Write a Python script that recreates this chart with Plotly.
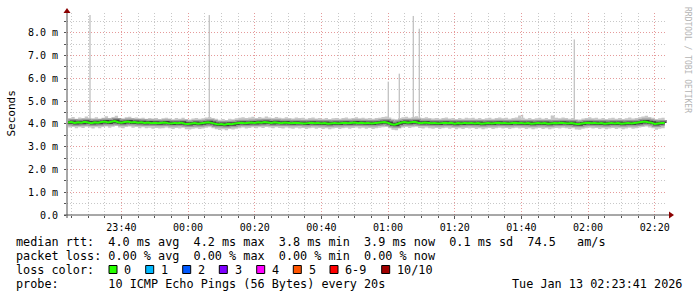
import pandas as pd
import plotly.graph_objects as go

# ---------------- data (values in milliseconds) ----------------
sample_start = "2026-01-12 23:24:00"
n_samples = 180  # one sample per minute

median_rtt = [
    4.06, 4.08, 4.04, 4.07, 4.05, 4.09, 4.06, 4.03, 4.07, 4.05,
    4.08, 4.10, 4.06, 4.09, 4.12, 4.07, 4.05, 4.08, 4.10, 4.06,
    4.08, 4.05, 4.07, 4.04, 4.06, 4.03, 4.05, 4.02, 4.04, 4.06,
    4.03, 4.01, 4.04, 4.02, 4.05, 4.00, 3.99, 4.01, 4.03, 4.00,
    4.02, 4.05, 4.07, 4.04, 3.99, 3.97, 3.99, 3.96, 4.00, 3.98,
    4.01, 4.03, 4.05, 4.02, 4.04, 4.06, 4.04, 4.07, 4.05, 4.08,
    4.06, 4.04, 4.07, 4.05, 4.03, 4.06, 4.04, 4.02, 4.05, 4.03,
    4.04, 4.01, 4.03, 4.05, 4.02, 4.04, 4.01, 4.03, 4.00, 4.02,
    4.04, 4.01, 4.03, 4.05, 4.02, 4.04, 4.06, 4.03, 4.05, 4.02,
    4.04, 4.01, 4.03, 4.05, 4.07, 4.08, 4.04, 3.98, 3.96, 4.02,
    4.06, 4.08, 4.05, 4.07, 4.09, 4.05, 4.03, 4.06, 4.04, 4.02,
    4.04, 4.01, 4.03, 4.05, 4.02, 4.04, 4.00, 4.03, 4.01, 4.04,
    4.02, 4.04, 4.01, 4.03, 4.00, 4.02, 4.04, 4.01, 4.03, 4.05,
    4.02, 4.04, 4.01, 4.03, 4.05, 4.02, 4.04, 4.01, 4.03, 4.00,
    4.02, 4.04, 4.01, 4.03, 4.00, 4.02, 4.04, 4.02, 4.05, 4.03,
    4.01, 4.03, 3.99, 3.98, 4.01, 4.03, 4.05, 4.02, 4.04, 4.01,
    4.03, 4.00, 4.02, 4.04, 4.01, 4.03, 4.00, 4.02, 4.04, 4.01,
    4.03, 4.05, 4.08, 4.10, 4.07, 4.05, 3.99, 4.02, 4.04, 4.03,
]

max_rtt = [
    4.26, 4.30, 4.22, 4.28, 4.25, 4.32, 4.27, 4.24, 4.29, 4.23,
    4.27, 4.33, 4.25, 4.30, 4.35, 4.26, 4.24, 4.29, 4.31, 4.25,
    4.28, 4.24, 4.27, 4.22, 4.26, 4.23, 4.25, 4.21, 4.24, 4.27,
    4.23, 4.20, 4.25, 4.22, 4.27, 4.21, 4.19, 4.23, 4.25, 4.22,
    4.24, 4.28, 4.30, 4.26, 4.22, 4.18, 4.21, 4.17, 4.22, 4.20,
    4.24, 4.27, 4.29, 4.25, 4.28, 4.31, 4.26, 4.30, 4.27, 4.32,
    4.28, 4.25, 4.30, 4.27, 4.24, 4.29, 4.26, 4.23, 4.28, 4.25,
    4.27, 4.22, 4.25, 4.28, 4.23, 4.26, 4.22, 4.25, 4.21, 4.24,
    4.26, 4.22, 4.25, 4.28, 4.23, 4.26, 4.29, 4.24, 4.27, 4.23,
    4.26, 4.22, 4.25, 4.27, 4.30, 4.32, 4.28, 4.22, 4.20, 4.25,
    4.29, 4.31, 4.27, 4.30, 4.33, 4.28, 4.25, 4.29, 4.26, 4.23,
    4.26, 4.22, 4.25, 4.28, 4.23, 4.26, 4.21, 4.25, 4.22, 4.27,
    4.24, 4.27, 4.22, 4.25, 4.21, 4.24, 4.27, 4.22, 4.25, 4.28,
    4.24, 4.27, 4.22, 4.25, 4.28, 4.36, 4.27, 4.22, 4.25, 4.21,
    4.24, 4.27, 4.22, 4.25, 4.21, 4.36, 4.27, 4.24, 4.28, 4.25,
    4.22, 4.25, 4.20, 4.19, 4.23, 4.26, 4.29, 4.24, 4.27, 4.22,
    4.25, 4.21, 4.24, 4.27, 4.22, 4.26, 4.21, 4.24, 4.28, 4.23,
    4.26, 4.29, 4.32, 4.35, 4.30, 4.27, 4.20, 4.24, 4.27, 4.25,
]

min_rtt = [
    3.84, 3.86, 3.80, 3.85, 3.82, 3.87, 3.84, 3.79, 3.85, 3.81,
    3.86, 3.88, 3.83, 3.87, 3.90, 3.84, 3.81, 3.86, 3.88, 3.83,
    3.86, 3.81, 3.85, 3.80, 3.83, 3.78, 3.82, 3.79, 3.81, 3.84,
    3.80, 3.77, 3.82, 3.79, 3.83, 3.76, 3.75, 3.78, 3.81, 3.77,
    3.79, 3.83, 3.85, 3.81, 3.76, 3.73, 3.76, 3.72, 3.77, 3.75,
    3.78, 3.81, 3.84, 3.79, 3.82, 3.85, 3.81, 3.85, 3.82, 3.86,
    3.84, 3.80, 3.85, 3.82, 3.79, 3.84, 3.81, 3.78, 3.83, 3.79,
    3.82, 3.77, 3.80, 3.83, 3.78, 3.82, 3.77, 3.80, 3.76, 3.79,
    3.82, 3.77, 3.80, 3.83, 3.78, 3.82, 3.84, 3.79, 3.83, 3.78,
    3.82, 3.77, 3.80, 3.83, 3.85, 3.86, 3.81, 3.74, 3.72, 3.79,
    3.84, 3.86, 3.82, 3.85, 3.87, 3.82, 3.79, 3.84, 3.81, 3.78,
    3.82, 3.77, 3.80, 3.83, 3.78, 3.82, 3.76, 3.80, 3.77, 3.82,
    3.79, 3.82, 3.77, 3.80, 3.76, 3.79, 3.82, 3.77, 3.80, 3.83,
    3.79, 3.82, 3.77, 3.80, 3.83, 3.79, 3.82, 3.77, 3.80, 3.76,
    3.79, 3.82, 3.77, 3.80, 3.76, 3.79, 3.82, 3.79, 3.83, 3.80,
    3.77, 3.80, 3.75, 3.74, 3.78, 3.81, 3.83, 3.79, 3.82, 3.77,
    3.80, 3.76, 3.79, 3.82, 3.77, 3.81, 3.76, 3.79, 3.83, 3.78,
    3.81, 3.84, 3.86, 3.88, 3.84, 3.81, 3.74, 3.78, 3.81, 3.80,
]

# isolated single-ping outliers (max of a sample)
spike_times = ["2026-01-12 23:30:35", "2026-01-13 00:06:23", "2026-01-13 01:00:05",
               "2026-01-13 01:03:23", "2026-01-13 01:07:35", "2026-01-13 01:09:23",
               "2026-01-13 01:40:20", "2026-01-13 01:49:00", "2026-01-13 01:55:53"]
spike_peaks = [8.77, 8.77, 5.85, 6.20, 8.73, 8.17, 4.40, 4.36, 7.70]
spike_base = 4.0

y_tick_values = [0, 1, 2, 3, 4, 5, 6, 7, 8]
y_tick_labels = ["0.0", "1.0 m", "2.0 m", "3.0 m", "4.0 m", "5.0 m", "6.0 m", "7.0 m", "8.0 m"]
y_minor_values = [0.5, 1.5, 2.5, 3.5, 4.5, 5.5, 6.5, 7.5, 8.5]

x_start = "2026-01-12 23:23:41"
x_end = "2026-01-13 02:23:41"
y_top = 8.86

legend_line1 = "median rtt:  4.0 ms avg  4.2 ms max  3.8 ms min  3.9 ms now  0.1 ms sd  74.5   am/s"
legend_line2 = "packet loss: 0.00 % avg  0.00 % max  0.00 % min  0.00 % now"
legend_line3 = "loss color:"
legend_line4 = "probe:       10 ICMP Echo Pings (56 Bytes) every 20s"
timestamp_text = "Tue Jan 13 02:23:41 2026"
loss_labels = ["0", "1", "2", "3", "4", "5", "6-9", "10/10"]
loss_colors = ["#26ff00", "#00b8ff", "#0059ff", "#7e00ff", "#ff00ff", "#ff5500", "#ff0000", "#a10000"]

# ---------------- layout geometry (pixels) ----------------
W, H = 697, 297
PL, PR, PT, PB = 67, 667, 13, 215  # plot area


def px(x):
    return (x - PL) / (PR - PL)


def py(y):
    return (PB - y) / (PB - PT)


times = pd.date_range(sample_start, periods=n_samples, freq="1min")
MONO = "DejaVu Sans Mono"

fig = go.Figure()

# spikes (drawn first, below the smoke)
sx, sy = [], []
for t, p in zip(spike_times, spike_peaks):
    sx += [t, t, None]
    sy += [spike_base, p, None]
fig.add_trace(go.Scatter(x=sx, y=sy, mode="lines", line=dict(color="#c4c4c4", width=1.4),
                         hoverinfo="skip", showlegend=False))

# smoke (min..max band)
fig.add_trace(go.Scatter(x=times, y=min_rtt, mode="lines", line=dict(width=0, shape="hv"),
                         hoverinfo="skip", showlegend=False))
fig.add_trace(go.Scatter(x=times, y=max_rtt, mode="lines", line=dict(width=0, shape="hv"),
                         fill="tonexty", fillcolor="#c8c8c8", hoverinfo="skip", showlegend=False))

# darker smoke core around the median
fig.add_trace(go.Scatter(x=times, y=median_rtt, mode="lines",
                         line=dict(color="#9a9a9a", width=6, shape="hv"),
                         hoverinfo="skip", showlegend=False))
fig.add_trace(go.Scatter(x=times, y=median_rtt, mode="lines",
                         line=dict(color="#404040", width=3, shape="hv"),
                         hoverinfo="skip", showlegend=False))
# median line (loss 0 -> green)
fig.add_trace(go.Scatter(x=times, y=median_rtt, mode="lines",
                         line=dict(color=loss_colors[0], width=2),
                         hoverinfo="skip", showlegend=False))

grid_dash = "1px,2px"
fig.update_xaxes(
    type="date", range=[x_start, x_end],
    tick0="2026-01-12 23:40:00", dtick=20 * 60 * 1000, tickformat="%H:%M",
    showgrid=True, gridcolor="#e59a9a", griddash=grid_dash, gridwidth=1,
    ticks="outside", ticklen=3, tickcolor="#555555",
    tickfont=dict(family=MONO, size=10, color="#000000"),
    minor=dict(dtick=5 * 60 * 1000, tick0="2026-01-12 23:40:00", showgrid=True,
               gridcolor="#c8c8c8", griddash=grid_dash, ticks="outside", ticklen=2,
               tickcolor="#555555"),
    showline=False, zeroline=False, fixedrange=True,
)
fig.update_yaxes(
    range=[0, y_top], tickvals=y_tick_values, ticktext=y_tick_labels,
    showgrid=True, gridcolor="#e59a9a", griddash=grid_dash, gridwidth=1,
    ticks="outside", ticklen=2, tickcolor="#555555",
    ticklabelstandoff=4,
    tickfont=dict(family=MONO, size=10, color="#000000"),
    minor=dict(tickvals=y_minor_values, showgrid=True, gridcolor="#c8c8c8",
               griddash=grid_dash, ticks="outside", ticklen=2, tickcolor="#555555"),
    showline=False, zeroline=False, fixedrange=True,
)

shapes = []
axis_col = "#505050"
arrow_col = "#8b0000"
# y axis line + arrow
shapes.append(dict(type="line", xref="paper", yref="paper", x0=0, x1=0, y0=py(218), y1=py(12),
                   line=dict(color=axis_col, width=1)))
shapes.append(dict(type="path", xref="paper", yref="paper",
                   path=f"M {px(67)},{py(8)} L {px(63.5)},{py(13)} L {px(70.5)},{py(13)} Z",
                   fillcolor=arrow_col, line=dict(color=arrow_col, width=0)))
# x axis line + arrow
shapes.append(dict(type="line", xref="paper", yref="paper", x0=px(64), x1=px(670), y0=0, y1=0,
                   line=dict(color=axis_col, width=1)))
shapes.append(dict(type="path", xref="paper", yref="paper",
                   path=f"M {px(674)},{py(215)} L {px(669)},{py(211.5)} L {px(669)},{py(218.5)} Z",
                   fillcolor=arrow_col, line=dict(color=arrow_col, width=0)))

# loss colour boxes
box_left = [109, 145.7, 182.7, 219.3, 256.7, 293.3, 330, 381.7]
label_left = [123.3, 160, 197, 233.6, 271, 307.6, 344.3, 396]
for bx, col in zip(box_left, loss_colors):
    shapes.append(dict(type="rect", xref="paper", yref="paper",
                       x0=px(bx), x1=px(bx + 8), y0=py(273.5), y1=py(265.5),
                       fillcolor=col, line=dict(color="#000000", width=1)))

annotations = []


def txt(s, x, y, size=11.8, anchor="left", color="#000000", angle=0, family=MONO):
    annotations.append(dict(text=s.replace(" ", "\u00a0"), x=px(x), y=py(y), xref="paper", yref="paper",
                            xanchor=anchor, yanchor="middle", showarrow=False, textangle=angle,
                            font=dict(family=family, size=size, color=color)))


txt(legend_line1, 14, 242)
txt(legend_line2, 14, 256)
txt(legend_line3, 14, 270)
txt(legend_line4, 14, 284)
txt(timestamp_text, 684, 284, anchor="right")
for lx, lab in zip(label_left, loss_labels):
    txt(lab, lx - 1, 270)

# axis title
annotations.append(dict(text="Seconds", x=px(11), y=py(113.5), xref="paper", yref="paper",
                        xanchor="center", yanchor="middle", showarrow=False, textangle=-90,
                        font=dict(family=MONO, size=11, color="#000000")))
# watermark
annotations.append(dict(text="RRDTOOL / TOBI OETIKER".replace(" ", "\u00a0"), x=px(688), y=py(60),
                        xref="paper", yref="paper", xanchor="center", yanchor="middle",
                        showarrow=False, textangle=90,
                        font=dict(family=MONO, size=8, color="#b4b4b4")))

fig.update_layout(
    width=W, height=H, autosize=False,
    margin=dict(l=PL, r=W - PR, t=PT, b=H - PB, pad=0),
    paper_bgcolor="#ffffff", plot_bgcolor="#ffffff",
    showlegend=False, shapes=shapes, annotations=annotations,
)

fig.write_html("out.html", config={"displayModeBar": False, "staticPlot": True})
